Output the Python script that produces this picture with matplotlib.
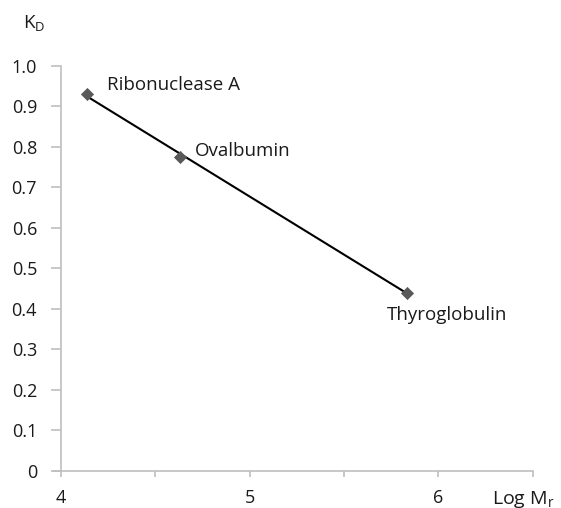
import numpy as np
import matplotlib
matplotlib.use("Agg")
import matplotlib.pyplot as plt

proteins = ["Ribonuclease A", "Ovalbumin", "Thyroglobulin"]
log_mr = [4.14, 4.63, 5.835]
kd = [0.93, 0.775, 0.44]
label_offsets = [(20, 9), (15, 6), (-20, -22)]  # pixels
x_ticks = [4, 4.5, 5, 5.5, 6, 6.5]
x_ticklabels = ["4", "", "5", "", "6", ""]
y_ticks = [0, 0.1, 0.2, 0.3, 0.4, 0.5, 0.6, 0.7, 0.8, 0.9, 1.0]
y_ticklabels = ["0", "0.1", "0.2", "0.3", "0.4", "0.5", "0.6", "0.7", "0.8", "0.9", "1.0"]

plt.rcParams['font.family'] = ['Open Sans', 'DejaVu Sans']

fig = plt.figure(figsize=(5.61, 5.08), dpi=100)
ax = fig.add_axes([60.7/561, 1-470.7/508, (532.7-60.7)/561, (470.7-65.7)/508])

axis_col = "#BFBFBF"
text_col = "#1a1a1a"

# trendline (linear fit)
coef = np.polyfit(log_mr, kd, 1)
xs = np.array([min(log_mr), max(log_mr)])
ax.plot(xs, np.polyval(coef, xs), color="black", lw=1.5, zorder=2)
ax.scatter(log_mr, kd, marker="D", s=45, color="#595959", zorder=3, linewidths=0)

pt = 0.72
for name, x, y, (dx, dy) in zip(proteins, log_mr, kd, label_offsets):
    ax.annotate(name, (x, y), xytext=(dx*pt, dy*pt), textcoords="offset points",
                ha="left", va="center", fontsize=13.5, color=text_col)

ax.set_xlim(4, 6.5)
ax.set_ylim(0, 1.0)
ax.set_xticks(x_ticks)
ax.set_xticklabels(x_ticklabels)
ax.set_yticks(y_ticks)
ax.set_yticklabels(y_ticklabels)

for s in ["top", "right"]:
    ax.spines[s].set_visible(False)
for s in ["left", "bottom"]:
    ax.spines[s].set_color(axis_col)
    ax.spines[s].set_linewidth(1.2)
ax.spines["left"].set_bounds(0, 1.0)

ax.tick_params(axis="both", colors=axis_col, labelcolor=text_col, labelsize=13,
               width=1.2)
ax.tick_params(axis="y", length=7, pad=10)
ax.tick_params(axis="x", length=4.5, pad=9)

# x-axis line extends slightly left of y axis (Excel style)
ax.plot([3.965, 4], [0, 0], color=axis_col, lw=1.2, clip_on=False)

fig.text(23/561, 1-24/508, r"K$_\mathregular{D}$", fontsize=13.5, color=text_col,
         ha="left", va="center")
fig.text(492/561, 1-499/508, r"Log M$_\mathregular{r}$", fontsize=14, color=text_col,
         ha="left", va="center")

fig.savefig("out.png", dpi=100)
